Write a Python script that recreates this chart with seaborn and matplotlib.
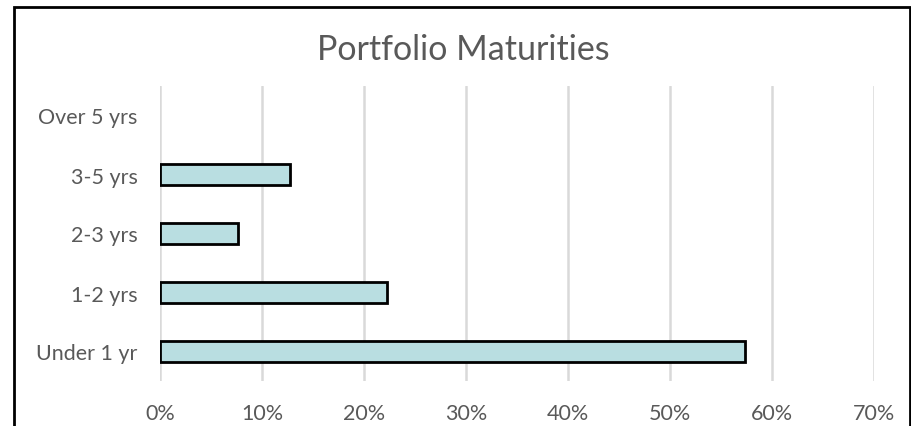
import matplotlib
matplotlib.use("Agg")
import matplotlib.pyplot as plt
import matplotlib.patches as mpatches
from matplotlib.ticker import PercentFormatter
import seaborn as sns
import pandas as pd

# Data
categories = ["Over 5 yrs", "3-5 yrs", "2-3 yrs", "1-2 yrs", "Under 1 yr"]
shares = [0.0, 12.7, 7.6, 22.3, 57.4]

df = pd.DataFrame({"bucket": categories, "pct": shares})

sns.set_style("white")
plt.rcParams["font.family"] = ["Lato", "DejaVu Sans"]

fig = plt.figure(figsize=(9.12, 4.27), dpi=100)
ax = fig.add_axes([160 / 912, 45 / 427, 714 / 912, 295 / 427])

sns.barplot(data=df, x="pct", y="bucket", orient="h", color="#B9DEE1",
            edgecolor="black", linewidth=2, width=0.36, saturation=1, ax=ax)

# empty bucket: no outline either
for bar in ax.patches:
    if bar.get_width() == 0:
        bar.set_linewidth(0)

ax.set_xlim(0, 70)
ax.set_xticks(range(0, 71, 10))
ax.xaxis.set_major_formatter(PercentFormatter(decimals=0))
ax.grid(axis="x", color="#D9D9D9", linewidth=1.8)
ax.set_axisbelow(True)
for s in ax.spines.values():
    s.set_visible(False)
ax.set_xlabel("")
ax.set_ylabel("")
ax.tick_params(axis="both", length=0, labelsize=15.5, labelcolor="#595959")
ax.tick_params(axis="x", pad=16)
ax.tick_params(axis="y", pad=16)

fig.text(463 / 912, 1 - 50 / 427, "Portfolio Maturities", ha="center", va="center",
         fontsize=24.5, color="#595959")

# outer chart frame
fig.patches.append(mpatches.Rectangle((14 / 912, -0.1), 896 / 912, 1.1 - 8 / 427,
                                      transform=fig.transFigure, fill=False,
                                      edgecolor="black", linewidth=2))

fig.savefig("out.png", dpi=100)
